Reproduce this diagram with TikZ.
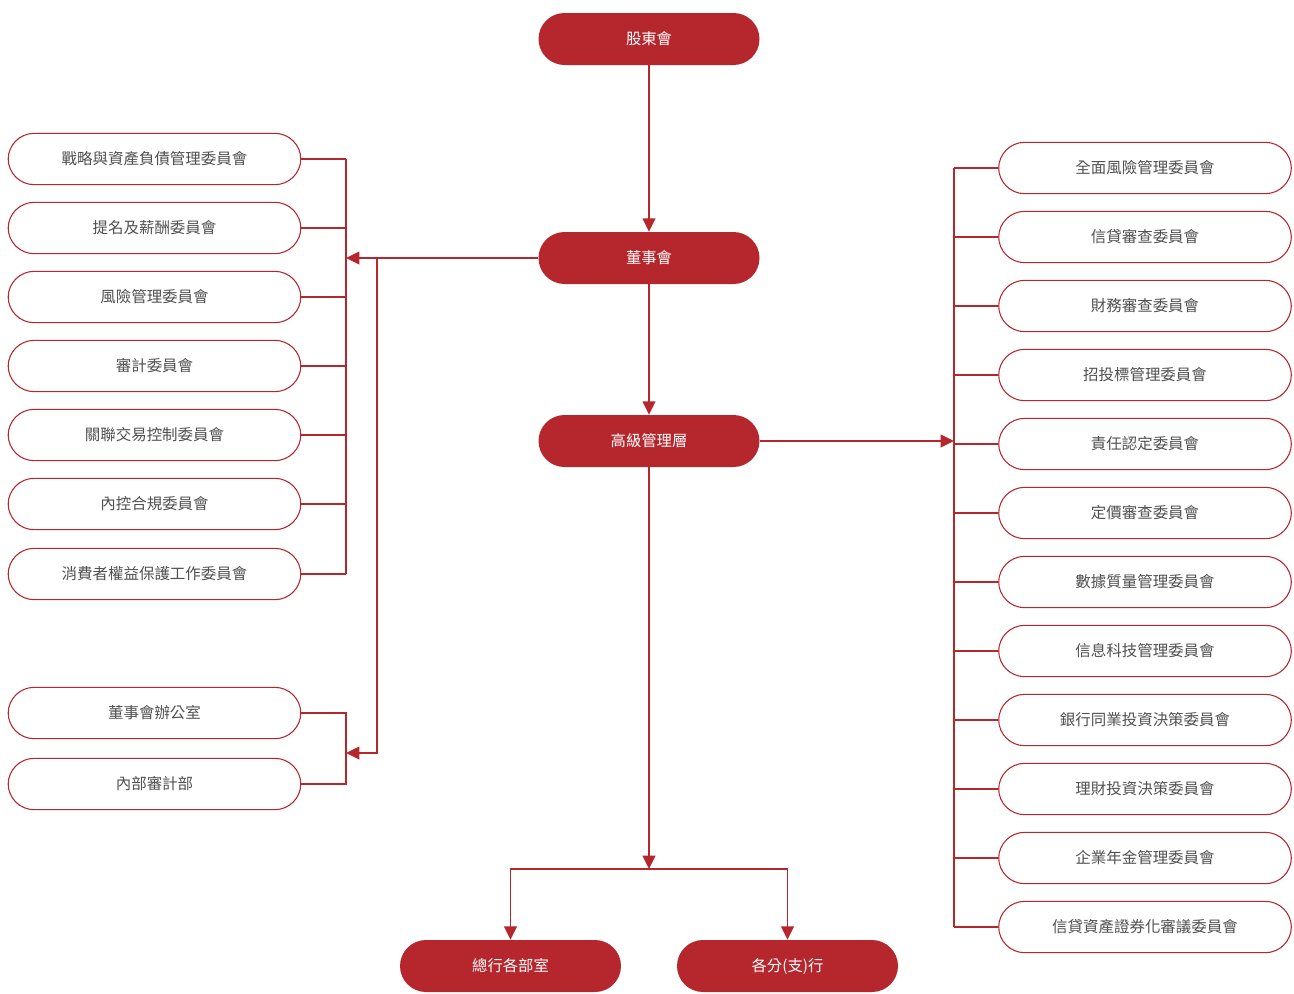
\documentclass[tikz,border=0pt]{standalone}
\usepackage{fontspec}
\setmainfont{Noto Sans CJK TC}
\usetikzlibrary{arrows.meta}
\definecolor{brand}{HTML}{B5272D}
\definecolor{txt}{HTML}{505050}
\begin{document}
\begin{tikzpicture}[x=0.75pt,y=-0.75pt,
  redbox/.style={fill=brand, text=white, rounded corners=19.5pt, minimum width=165.75pt, minimum height=39pt, inner sep=0pt, font=\fontsize{11.5}{14}\selectfont},
  whitebox/.style={draw=brand, line width=0.8pt, fill=white, text=txt, rounded corners=19.5pt, minimum width=219.5pt, minimum height=38.5pt, inner sep=0pt, font=\fontsize{11.6}{14}\selectfont},
  link/.style={draw=brand, line width=1.2pt},
  arr/.style={-{Triangle[length=10pt,width=9.5pt]}}]
\useasboundingbox (0,0) rectangle (1294,993);
% main column
\node[redbox] (S) at (649,39) {股東會};
\node[redbox] (B) at (649,258) {董事會};
\node[redbox] (M) at (649,441) {高級管理層};
\node[redbox] (D1) at (510.5,966) {總行各部室};
\node[redbox] (D2) at (787.5,966) {各分(支)行};
% left committees
\node[whitebox] (L1) at (154.5,159) {戰略與資產負債管理委員會};
\node[whitebox] (L2) at (154.5,228) {提名及薪酬委員會};
\node[whitebox] (L3) at (154.5,297) {風險管理委員會};
\node[whitebox] (L4) at (154.5,366) {審計委員會};
\node[whitebox] (L5) at (154.5,435) {關聯交易控制委員會};
\node[whitebox] (L6) at (154.5,504) {內控合規委員會};
\node[whitebox] (L7) at (154.5,574) {消費者權益保護工作委員會};
\node[whitebox] (L8) at (154.5,713) {董事會辦公室};
\node[whitebox] (L9) at (154.5,784) {內部審計部};
% right committees
\node[whitebox] (R1) at (1145,168) {全面風險管理委員會};
\node[whitebox] (R2) at (1145,237) {信貸審查委員會};
\node[whitebox] (R3) at (1145,306) {財務審查委員會};
\node[whitebox] (R4) at (1145,375) {招投標管理委員會};
\node[whitebox] (R5) at (1145,444) {責任認定委員會};
\node[whitebox] (R6) at (1145,513) {定價審查委員會};
\node[whitebox] (R7) at (1145,582) {數據質量管理委員會};
\node[whitebox] (R8) at (1145,651) {信息科技管理委員會};
\node[whitebox] (R9) at (1145,720) {銀行同業投資決策委員會};
\node[whitebox] (R10) at (1145,789) {理財投資決策委員會};
\node[whitebox] (R11) at (1145,858) {企業年金管理委員會};
\node[whitebox] (R12) at (1145,927) {信貸資產證券化審議委員會};
% coordinates
\coordinate (busL) at (346,0);
\coordinate (jL) at (377,0);
\coordinate (a2) at (346,753);
\coordinate (busR) at (954,0);
\coordinate (split) at (649,869);
% main arrows
\draw[link,arr] (S.south) -- (B.north);
\draw[link,arr] (B.south) -- (M.north);
\draw[link,arr] (M.south) -- (split);
\draw[link,arr] (split) -| (D1.north);
\draw[link,arr] (split) -| (D2.north);
% left bus
\draw[link] (L1.east -| busL) -- (L7.east -| busL);
\foreach \n in {L1,L2,L3,L4,L5,L6,L7} {\draw[link] (\n.east) -- (\n.east -| busL);}
\draw[link,arr] (B.west) -- (B.west -| busL);
\draw[link] (L8.east) -| (L9.east -| busL) -- (L9.east);
\draw[link,arr] (B.west -| jL) |- (a2);
% right bus
\draw[link] (R1.west -| busR) -- (R12.west -| busR);
\foreach \n in {R1,R2,R3,R4,R5,R6,R7,R8,R9,R10,R11,R12} {\draw[link] (\n.west) -- (\n.west -| busR);}
\draw[link,arr] (M.east) -- (M.east -| busR);
\end{tikzpicture}
\end{document}
